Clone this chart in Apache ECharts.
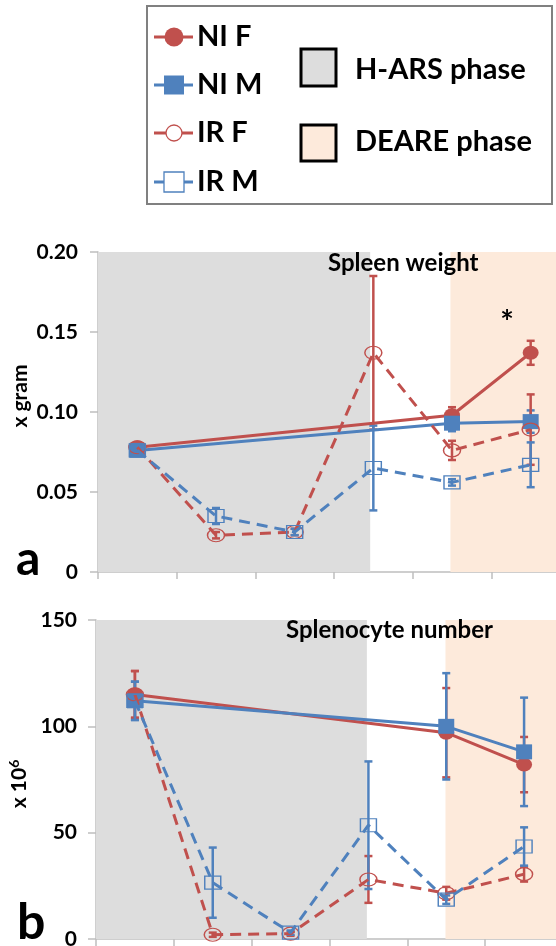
<!DOCTYPE html>
<html><head><meta charset="utf-8">
<script src="https://cdn.jsdelivr.net/npm/echarts@6/dist/echarts.min.js"></script>
<style>html,body{margin:0;padding:0;background:#fff}#c{width:556px;height:946px}</style>
</head><body><div id="c"></div>
<script>
// ---- data ----
const timepoints = [0.5, 1.5, 2.5, 3.5, 4.5, 5.5];
const phaseHARS = [0, 3.46];
const phaseDEARE = [4.48, 6];
const phaseHARSb = [0, 3.48];
const phaseDEAREb = [4.49, 6];

// Spleen weight (x gram)
const wNIF = [0.078, null, null, null, 0.098, 0.137];
const wNIFerr = [0.002, null, null, null, 0.005, 0.0075];
const wNIM = [0.076, null, null, null, 0.093, 0.094];
const wNIMerr = [0.002, null, null, null, 0.005, 0.007];
const wIRF = [0.078, 0.023, 0.025, 0.137, 0.076, 0.089];
const wIRFerr = [0.002, 0.002, 0.002, 0.048, 0.006, 0.022];
const wIRM = [0.076, 0.035, 0.025, 0.065, 0.056, 0.067];
const wIRMerr = [0.002, 0.005, 0.002, 0.0265, 0.002, 0.014];
const wTicks = ['0', '0.05', '0.10', '0.15', '0.20'];

// Splenocyte number (x 10^6)
const nNIF = [115, null, null, null, 97, 82];
const nNIFerr = [11, null, null, null, 21, 13];
const nNIM = [112, null, null, null, 100, 88];
const nNIMerr = [9, null, null, null, 25, 25.5];
const nIRF = [115, 2, 2.5, 28, 21.5, 30.5];
const nIRFerr = [11, 1, 1, 11, 3, 3.5];
const nIRM = [112, 26.5, 3, 53.5, 18.5, 43.5];
const nIRMerr = [9, 16.5, 1, 30, 2, 9];
const nTicks = ['0', '50', '100', '150'];

// ---- styles ----
const RED = '#c0504d', BLUE = '#4f81bd';
const FONT = 'Lato, "Open Sans", sans-serif';
const FW = 'bold';
const AXC = '#bfbfbf';

function lineSeries(vals, color, dashed, filled, sym, size, gi, z) {
  return {
    type: 'line', xAxisIndex: gi, yAxisIndex: gi,
    data: vals.map((v, i) => [timepoints[i], v]),
    connectNulls: true, symbol: sym, symbolSize: size, showSymbol: true,
    lineStyle: { color: color, width: 3, type: dashed ? [11, 7] : 'solid' },
    itemStyle: filled ? { color: color } : { color: 'rgba(0,0,0,0)', borderColor: color, borderWidth: 1.3 },
    z: z, animation: false, silent: true
  };
}
function errSeries(vals, errs, color, gi, z) {
  const data = [];
  vals.forEach((v, i) => { if (v != null && errs[i] != null) data.push([timepoints[i], v - errs[i], v + errs[i]]); });
  return {
    type: 'custom', xAxisIndex: gi, yAxisIndex: gi, data: data, z: z, silent: true, animation: false,
    encode: { x: 0, y: [1, 2] },
    renderItem: function (params, api) {
      const x = api.value(0);
      const lo = api.coord([x, api.value(1)]);
      const hi = api.coord([x, api.value(2)]);
      const cw = 4, st = { stroke: color, lineWidth: 2.5 };
      return { type: 'group', children: [
        { type: 'line', shape: { x1: lo[0], y1: lo[1], x2: hi[0], y2: hi[1] }, style: st },
        { type: 'line', shape: { x1: lo[0] - cw, y1: lo[1], x2: lo[0] + cw, y2: lo[1] }, style: st },
        { type: 'line', shape: { x1: hi[0] - cw, y1: hi[1], x2: hi[0] + cw, y2: hi[1] }, style: st }
      ]};
    }
  };
}
function phaseSeries(gi, hars, deare) {
  return {
    type: 'line', xAxisIndex: gi, yAxisIndex: gi, data: [], silent: true, z: 0,
    markArea: { silent: true, data: [
      [{ xAxis: hars[0], itemStyle: { color: '#dddddd' } }, { xAxis: hars[1] }],
      [{ xAxis: deare[0], itemStyle: { color: '#fdeadb' } }, { xAxis: deare[1] }]
    ]}
  };
}
function xAx(gi) {
  return { type: 'value', gridIndex: gi, min: 0, max: 6, interval: 1,
    axisLine: { show: true, lineStyle: { color: AXC, width: 1.5 } },
    axisTick: { show: true, length: 7, lineStyle: { color: AXC, width: 1.5 } },
    axisLabel: { show: false }, splitLine: { show: false } };
}
function yAx(gi, max, interval, labels, margin) {
  return { type: 'value', gridIndex: gi, min: 0, max: max, interval: interval,
    axisLine: { show: true, lineStyle: { color: AXC, width: 1.5 } },
    axisTick: { show: true, length: 8, lineStyle: { color: AXC, width: 1.5 } },
    axisLabel: { show: true, margin: margin, color: '#000', fontFamily: FONT, fontWeight: FW, fontSize: 21,
      formatter: function (v) { return labels[Math.round(v / interval)]; } },
    splitLine: { show: false } };
}

const series = [
  phaseSeries(0, phaseHARS, phaseDEARE),
  phaseSeries(1, phaseHARSb, phaseDEAREb),
  errSeries(wNIF, wNIFerr, RED, 0, 3), errSeries(wNIM, wNIMerr, BLUE, 0, 3),
  errSeries(wIRF, wIRFerr, RED, 0, 3), errSeries(wIRM, wIRMerr, BLUE, 0, 3),
  lineSeries(wNIF, RED, false, true, 'circle', [16, 14], 0, 5),
  lineSeries(wNIM, BLUE, false, true, 'rect', [16, 15], 0, 6),
  lineSeries(wIRF, RED, true, false, 'circle', [17, 13], 0, 7),
  lineSeries(wIRM, BLUE, true, false, 'rect', [16, 13], 0, 8),
  errSeries(nNIF, nNIFerr, RED, 1, 3), errSeries(nNIM, nNIMerr, BLUE, 1, 3),
  errSeries(nIRF, nIRFerr, RED, 1, 3), errSeries(nIRM, nIRMerr, BLUE, 1, 3),
  lineSeries(nNIF, RED, false, true, 'circle', [16, 14], 1, 5),
  lineSeries(nNIM, BLUE, false, true, 'rect', [16, 15], 1, 6),
  lineSeries(nIRF, RED, true, false, 'circle', [17, 13], 1, 7),
  lineSeries(nIRM, BLUE, true, false, 'rect', [16, 13], 1, 8)
];

const tb = { fontFamily: FONT, fontWeight: FW, fill: '#000' };
function txt(text, x, y, size, align, valign, extra) {
  return Object.assign({ type: 'text', x: x, y: y, z: 50,
    style: Object.assign({}, tb, { text: text, fontSize: size, textAlign: align || 'left', textVerticalAlign: valign || 'middle' }) }, extra || {});
}
const LX = 174, LY = [37, 85, 133, 182];
const graphic = [
  { type: 'rect', shape: { x: 147, y: 6, width: 405, height: 198 }, style: { fill: '#fff', stroke: '#808080', lineWidth: 2 }, z: 40 },
  // legend lines
  { type: 'line', shape: { x1: 154, y1: LY[0], x2: 193, y2: LY[0] }, style: { stroke: RED, lineWidth: 3 }, z: 41 },
  { type: 'circle', shape: { cx: LX, cy: LY[0], r: 9.5 }, style: { fill: RED }, z: 42 },
  { type: 'line', shape: { x1: 154, y1: LY[1], x2: 193, y2: LY[1] }, style: { stroke: BLUE, lineWidth: 3 }, z: 41 },
  { type: 'rect', shape: { x: LX - 10, y: LY[1] - 9.5, width: 20, height: 19 }, style: { fill: BLUE }, z: 42 },
  { type: 'line', shape: { x1: 154, y1: LY[2], x2: 193, y2: LY[2] }, style: { stroke: RED, lineWidth: 3 }, z: 41 },
  { type: 'circle', shape: { cx: LX, cy: LY[2], r: 8 }, style: { fill: '#fff', stroke: RED, lineWidth: 1.3 }, z: 42 },
  { type: 'line', shape: { x1: 154, y1: LY[3], x2: 193, y2: LY[3] }, style: { stroke: BLUE, lineWidth: 3 }, z: 41 },
  { type: 'rect', shape: { x: LX - 10, y: LY[3] - 10, width: 20, height: 20 }, style: { fill: '#fff', stroke: BLUE, lineWidth: 1.3 }, z: 42 },
  txt('NI F', 197, LY[0], 29), txt('NI M', 197, LY[1], 29), txt('IR F', 197, LY[2], 29), txt('IR M', 197, LY[3], 29),
  { type: 'rect', shape: { x: 301, y: 49, width: 35, height: 37 }, style: { fill: '#dddddd', stroke: '#000', lineWidth: 3 }, z: 41 },
  { type: 'rect', shape: { x: 301, y: 125, width: 35, height: 36 }, style: { fill: '#fdeadb', stroke: '#000', lineWidth: 3 }, z: 41 },
  txt('H-ARS phase', 355, 70, 29), txt('DEARE phase', 355, 142, 29),
  // chart texts
  txt('Spleen weight', 328, 263, 24),
  txt('Splenocyte number', 286, 630, 24),
  txt('*', 507, 324, 32, 'center'),
  txt('a', 16, 560, 48),
  txt('b', 17, 923, 50),
  txt('x gram', 20, 396, 21, 'center', 'middle', { rotation: Math.PI / 2 }),
  { type: 'text', x: 19, y: 784, z: 50, rotation: Math.PI / 2,
    style: { text: 'x 10{s|6}', fontFamily: FONT, fontWeight: FW, fontSize: 21, fill: '#000', textAlign: 'center', textVerticalAlign: 'middle',
      rich: { s: { fontFamily: FONT, fontWeight: FW, fontSize: 14, verticalAlign: 'top', padding: [0, 0, 10, 0] } } } }
];

const chart = echarts.init(document.getElementById('c'), null, { renderer: 'canvas' });
chart.setOption({
  animation: false,
  backgroundColor: '#fff',
  grid: [
    { left: 98, top: 252, right: -14, height: 320, outerBoundsMode: 'none', containLabel: false },
    { left: 96, top: 620, right: -7, height: 319, outerBoundsMode: 'none', containLabel: false }
  ],
  xAxis: [xAx(0), xAx(1)],
  yAxis: [yAx(0, 0.2, 0.05, wTicks, 20), yAx(1, 150, 50, nTicks, 19)],
  series: series,
  graphic: graphic
});
</script></body></html>
